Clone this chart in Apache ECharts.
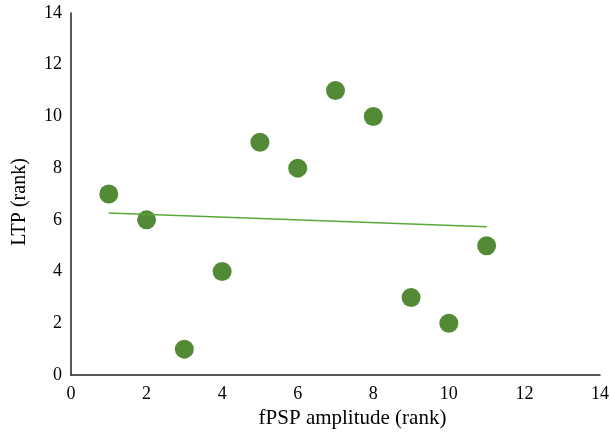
<!DOCTYPE html>
<html><head><meta charset="utf-8">
<script src="https://cdn.jsdelivr.net/npm/echarts@6/dist/echarts.min.js"></script>
<style>html,body{margin:0;padding:0;background:#fff}#c{width:610px;height:435px}</style>
</head><body><div id="c"></div>
<script>
var xRank = [1, 2, 3, 4, 5, 6, 7, 8, 9, 10, 11];
var yRank = [7, 6, 1, 4, 9, 8, 11, 10, 3, 2, 5];
var trendX = [1, 11];
var trendY = [6.27, 5.73];
var xTitle = 'fPSP amplitude (rank)';
var yTitle = 'LTP (rank)';

var pts = xRank.map(function (x, i) { return [x, yRank[i]]; });
var trend = trendX.map(function (x, i) { return [x, trendY[i]]; });
var font = 'Liberation Serif';
var chart = echarts.init(document.getElementById('c'));
chart.setOption({
  animation: false,
  grid: { left: 71, right: 10, top: 13, bottom: 60, containLabel: false, outerBoundsMode: 'none' },
  xAxis: {
    type: 'value', min: 0, max: 14, interval: 2,
    name: xTitle, nameLocation: 'middle', nameGap: 31,
    nameTextStyle: { fontFamily: font, fontSize: 21, color: '#000', padding: [0, 0, 0, 34] },
    axisLine: { lineStyle: { color: '#222', width: 1.5 } },
    axisTick: { show: false },
    splitLine: { show: false },
    axisLabel: { fontFamily: font, fontSize: 18, color: '#000', margin: 10 }
  },
  yAxis: {
    type: 'value', min: 0, max: 14, interval: 2,
    name: yTitle, nameLocation: 'middle', nameGap: 41,
    nameTextStyle: { fontFamily: font, fontSize: 20, color: '#000', padding: [0, 16, 0, 0] },
    axisLine: { show: true, lineStyle: { color: '#222', width: 1.5 } },
    axisTick: { show: false },
    splitLine: { show: false },
    axisLabel: { fontFamily: font, fontSize: 18, color: '#000', margin: 9 }
  },
  series: [
    { type: 'scatter', data: pts, symbolSize: 19, itemStyle: { color: '#538a35', opacity: 1 }, z: 2 },
    { type: 'line', data: trend, symbol: 'none', lineStyle: { color: '#5aa83a', width: 1.5 }, z: 3 }
  ]
});
</script></body></html>
